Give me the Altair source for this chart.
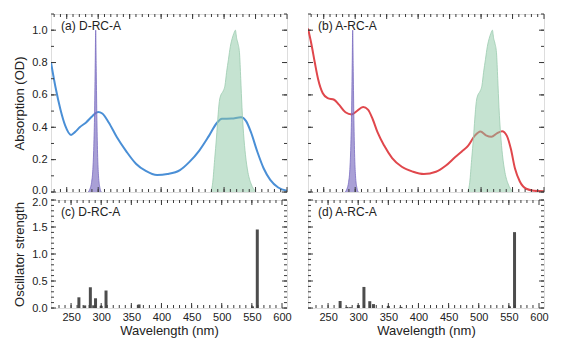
import altair as alt
import pandas as pd

# ---------------- data ----------------
# (a) D-RC-A absorption
wl_a = [225, 232, 240, 247.6, 256.8, 263, 270.6, 280.8, 291, 299.8, 306.5, 316.7, 329.5, 344.9,
        360, 375.6, 393.6, 410, 429.9, 445, 460.6, 476, 488.8, 496.5, 512, 527, 535, 542.7,
        553, 563, 573.4, 586, 600]
od_a = [0.80, 0.65, 0.51, 0.41, 0.353, 0.37, 0.40, 0.43, 0.47, 0.495, 0.485, 0.43, 0.34, 0.25,
        0.175, 0.13, 0.105, 0.111, 0.135, 0.186, 0.256, 0.347, 0.428, 0.452, 0.454, 0.462, 0.438, 0.37,
        0.247, 0.145, 0.075, 0.028, 0.008]

# (b) A-RC-A absorption
wl_b = [225, 230.6, 235.8, 240.9, 248.5, 256.2, 266.5, 274.2, 284.5, 294.6, 302.3, 312.6, 320.3,
        328, 335.6, 346, 358.7, 374, 392, 409, 428.3, 443.7, 459, 469.4, 479.6, 489.8, 499,
        507.8, 516.5, 525.7, 533.4, 541, 547.3, 553.9, 561.6, 571.8, 584.6, 600]
od_b = [1.01, 0.91, 0.80, 0.70, 0.61, 0.58, 0.57, 0.54, 0.493, 0.479, 0.499, 0.525, 0.509,
        0.448, 0.368, 0.287, 0.21, 0.156, 0.125, 0.111, 0.125, 0.162, 0.216, 0.25, 0.287, 0.347, 0.374,
        0.35, 0.341, 0.364, 0.376, 0.347, 0.267, 0.145, 0.065, 0.02, 0.008, 0.004]

# excitation spike (purple)
ex_wl = [284, 287, 289.5, 291.5, 293, 294.3, 295.3, 296, 296.8, 297.8, 299, 300.5, 302.5, 305]
ex_v = [0, 0.02, 0.06, 0.14, 0.28, 0.5, 0.8, 1.0, 0.78, 0.48, 0.24, 0.1, 0.03, 0]

# emission band (green)
em_wl = [479, 482, 485, 488, 490, 492.5, 495, 498, 501.5, 504, 507, 510, 513, 515.5, 518, 520,
         522, 524.5, 526.5, 528.5, 531, 534, 538, 543, 550]
em_v = [0, 0.06, 0.2, 0.34, 0.45, 0.56, 0.6, 0.62, 0.66, 0.74, 0.82, 0.9, 0.95, 0.98, 1.0, 0.95,
        0.92, 0.86, 0.7, 0.52, 0.36, 0.23, 0.12, 0.05, 0.005]

# (c) D-RC-A oscillator strengths
c_wl = [263, 272.6, 282, 287.5, 290.6, 300, 308, 362.8, 551, 559]
c_f = [0.198, 0.048, 0.384, 0.05, 0.18, 0.04, 0.324, 0.066, 0.03, 1.454]

# (d) A-RC-A oscillator strengths
d_wl = [270, 281.4, 287, 300.3, 309.5, 319.2, 325.4, 350, 371, 551, 559.4]
d_f = [0.13, 0.02, 0.015, 0.054, 0.39, 0.126, 0.072, 0.036, 0.02, 0.03, 1.405]

panel_labels = ["(a) D-RC-A", "(b) A-RC-A", "(c) D-RC-A", "(d) A-RC-A"]

x_major = [250, 300, 350, 400, 450, 500, 550, 600]
x_minor = list(range(230, 600, 10))
top_y_major = [0.0, 0.2, 0.4, 0.6, 0.8, 1.0]
top_y_minor = [round(i * 0.1, 1) for i in range(0, 12)]
bot_y_major = [0.0, 0.5, 1.0, 1.5, 2.0]
bot_y_minor = [round(i * 0.1, 1) for i in range(0, 21)]

# ---------------- style ----------------
FONT = "Liberation Sans"
FRAME = "#3a3a3a"
TXT = "#222222"
W, H_TOP, H_BOT = 236, 178, 108


def make_panel(H, ymax, y_major, y_minor, label, show_x, show_y, ytitle, content, edge_value, edge_shift):
    if show_x:
        xaxis = alt.Axis(values=x_major, format="d", ticks=False, tickSize=0, domain=False, grid=False,
                         labelPadding=3, labelFlush=False, labelFontSize=11, labelColor=TXT,
                         title="Wavelength (nm)", titlePadding=2, titleFontSize=13,
                         titleFontWeight="normal", titleColor=TXT)
    else:
        xaxis = None
    if show_y:
        yaxis = alt.Axis(values=y_major, format=".1f", ticks=False, tickSize=0, domain=False, grid=False,
                         labelPadding=4, labelFontSize=11, labelColor=TXT,
                         labelOffset={"condition": {"test": f"datum.value === {edge_value}",
                                                    "value": edge_shift}, "value": 0},
                         title=ytitle, titlePadding=5, titleFontSize=13,
                         titleFontWeight="normal", titleColor=TXT)
    else:
        yaxis = None
    X = alt.X("x:Q", scale=alt.Scale(domain=[225, 600], nice=False, zero=False), axis=xaxis)
    Y = alt.Y("y:Q", scale=alt.Scale(domain=[0, ymax], nice=False, zero=True), axis=yaxis)

    layers = content(X, Y)

    xmaj = pd.DataFrame({"x": x_major})
    xmin = pd.DataFrame({"x": x_minor})
    ymaj = pd.DataFrame({"y": y_major})
    ymin = pd.DataFrame({"y": y_minor})
    rule = dict(color=FRAME, strokeWidth=1)
    layers += [
        alt.Chart(xmaj).mark_rule(**rule).encode(x=X, y=alt.value(H), y2=alt.value(H - 5)),
        alt.Chart(xmaj).mark_rule(**rule).encode(x=X, y=alt.value(0), y2=alt.value(5)),
        alt.Chart(xmin).mark_rule(**rule).encode(x=X, y=alt.value(H), y2=alt.value(H - 3)),
        alt.Chart(xmin).mark_rule(**rule).encode(x=X, y=alt.value(0), y2=alt.value(3)),
        alt.Chart(ymaj).mark_rule(**rule).encode(y=Y, x=alt.value(0), x2=alt.value(5)),
        alt.Chart(ymaj).mark_rule(**rule).encode(y=Y, x=alt.value(W), x2=alt.value(W - 5)),
        alt.Chart(ymin).mark_rule(**rule).encode(y=Y, x=alt.value(0), x2=alt.value(3)),
        alt.Chart(ymin).mark_rule(**rule).encode(y=Y, x=alt.value(W), x2=alt.value(W - 3)),
        alt.Chart(pd.DataFrame({"t": [label]})).mark_text(
            align="left", baseline="middle", font=FONT, fontSize=12, color=TXT
        ).encode(x=alt.value(10), y=alt.value(12), text="t:N"),
    ]
    return alt.layer(*layers).properties(width=W, height=H)


def absorption(wl, od, color):
    def content(X, Y):
        line_df = pd.DataFrame({"x": wl, "y": od})
        ex_df = pd.DataFrame({"x": ex_wl, "y": ex_v})
        em_df = pd.DataFrame({"x": em_wl, "y": em_v})
        return [
            alt.Chart(line_df).mark_line(color=color, strokeWidth=2, interpolate="monotone",
                                         clip=True).encode(x=X, y=Y),
            alt.Chart(em_df).mark_area(color="#8cc8a4", opacity=0.5, interpolate="monotone",
                                       line={"color": "#9ccbb0", "strokeWidth": 0.8}).encode(x=X, y=Y),
            alt.Chart(ex_df).mark_area(color="#7565bd", opacity=0.62, interpolate="monotone",
                                       line={"color": "#7a6cc0", "strokeWidth": 0.8}).encode(x=X, y=Y),
        ]
    return content


def bars(wl, f):
    def content(X, Y):
        df = pd.DataFrame({"x": wl, "y": f})
        return [alt.Chart(df).mark_bar(size=3, color="#4d4d4d").encode(x=X, y=Y)]
    return content


pa = make_panel(H_TOP, 1.1, top_y_major, top_y_minor, panel_labels[0], False, True,
                "Absorption (OD)", absorption(wl_a, od_a, "#4a8fd6"), 0, -2)
pb = make_panel(H_TOP, 1.1, top_y_major, top_y_minor, panel_labels[1], False, False,
                "", absorption(wl_b, od_b, "#e0474c"), 0, -2)
pc = make_panel(H_BOT, 2.0, bot_y_major, bot_y_minor, panel_labels[2], True, True,
                "Oscillator strength", bars(c_wl, c_f), 2, 2)
pd_ = make_panel(H_BOT, 2.0, bot_y_major, bot_y_minor, panel_labels[3], True, False,
                 "", bars(d_wl, d_f), 2, 2)

chart = alt.concat(pa, pb, pc, pd_, columns=2,
                   spacing=alt.RowColnumber(row=8, column=21), bounds="flush").properties(
    padding={"left": 5, "top": 5, "right": 0, "bottom": 0}
).configure_view(
    stroke=FRAME, strokeWidth=1
).configure(font=FONT, background="white")

chart.save("out.html", embed_options={"renderer": "svg", "actions": False})
